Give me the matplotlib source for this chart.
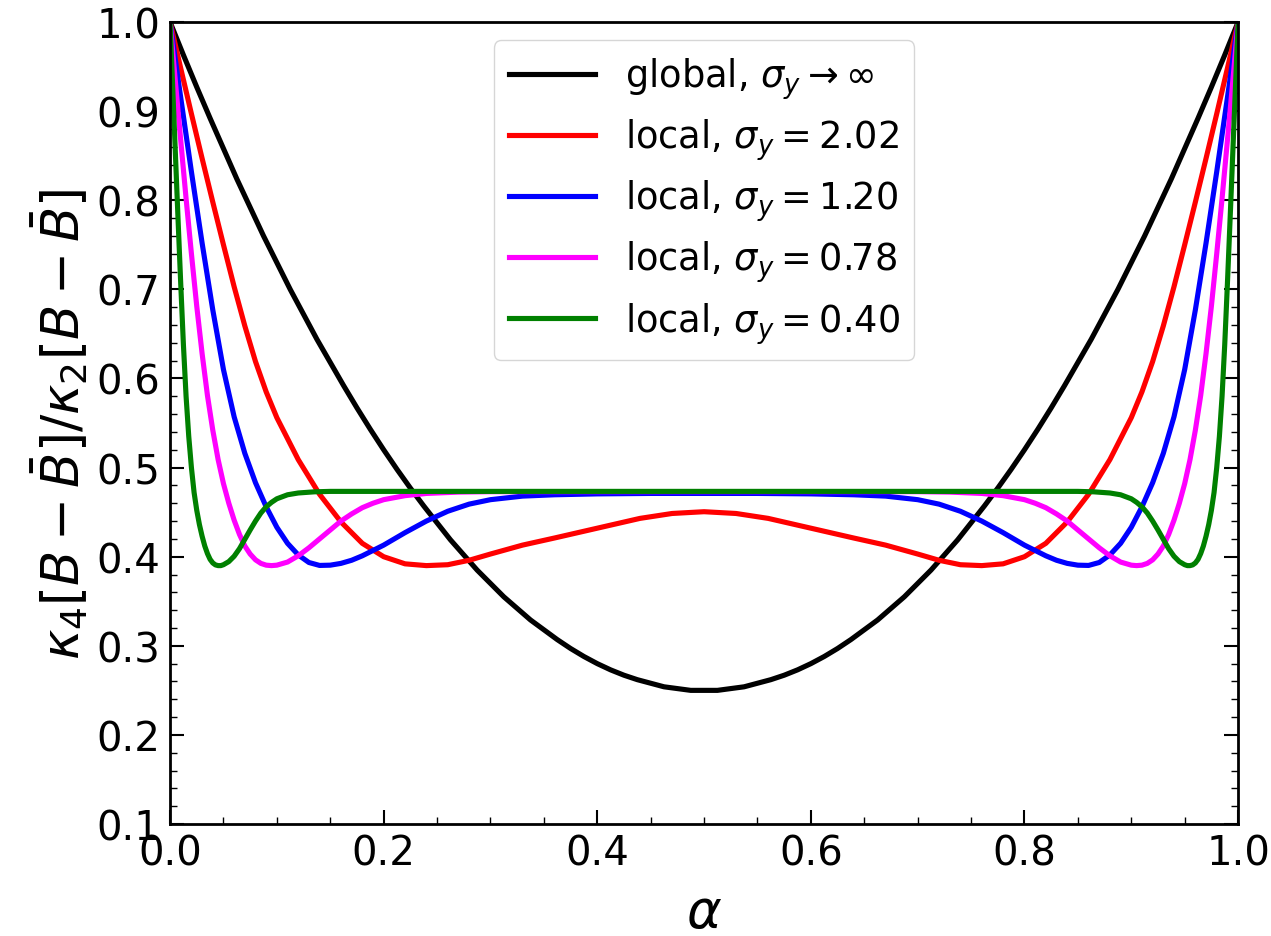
import matplotlib
matplotlib.use("Agg")
import matplotlib.pyplot as plt
from matplotlib.ticker import MultipleLocator

# global curve (sigma_y -> infinity)
alpha_global = [0.0000, 0.0125, 0.0250, 0.0375, 0.0500, 0.0625, 0.0750, 0.0875, 0.1000, 0.1125,
                0.1250, 0.1375, 0.1500, 0.1625, 0.1750, 0.1875, 0.2000, 0.2125, 0.2250, 0.2375,
                0.2500, 0.2625, 0.2750, 0.2875, 0.3000, 0.3125, 0.3250, 0.3375, 0.3500, 0.3625,
                0.3750, 0.3875, 0.4000, 0.4125, 0.4250, 0.4375, 0.4500, 0.4625, 0.4750, 0.4875,
                0.5000, 0.5125, 0.5250, 0.5375, 0.5500, 0.5625, 0.5750, 0.5875, 0.6000, 0.6125,
                0.6250, 0.6375, 0.6500, 0.6625, 0.6750, 0.6875, 0.7000, 0.7125, 0.7250, 0.7375,
                0.7500, 0.7625, 0.7750, 0.7875, 0.8000, 0.8125, 0.8250, 0.8375, 0.8500, 0.8625,
                0.8750, 0.8875, 0.9000, 0.9125, 0.9250, 0.9375, 0.9500, 0.9625, 0.9750, 0.9875, 1.0000]
k_global = [1.000, 0.963, 0.927, 0.892, 0.858, 0.824, 0.792, 0.760, 0.730, 0.700,
            0.672, 0.644, 0.618, 0.592, 0.567, 0.543, 0.520, 0.498, 0.477, 0.457,
            0.438, 0.419, 0.402, 0.385, 0.370, 0.355, 0.342, 0.329, 0.318, 0.307,
            0.297, 0.288, 0.280, 0.273, 0.267, 0.262, 0.258, 0.254, 0.252, 0.250,
            0.250, 0.250, 0.252, 0.254, 0.258, 0.262, 0.267, 0.273, 0.280, 0.288,
            0.297, 0.307, 0.318, 0.329, 0.342, 0.355, 0.370, 0.385, 0.402, 0.419,
            0.438, 0.457, 0.477, 0.498, 0.520, 0.543, 0.567, 0.592, 0.618, 0.644,
            0.672, 0.700, 0.730, 0.760, 0.792, 0.824, 0.858, 0.892, 0.927, 0.963, 1.000]

# local, sigma_y = 2.02
alpha_202 = [0.00, 0.01, 0.02, 0.03, 0.04, 0.05, 0.06, 0.07, 0.08, 0.09, 0.10, 0.12, 0.14,
             0.16, 0.18, 0.20, 0.22, 0.24, 0.26, 0.28, 0.30, 0.33, 0.36, 0.40, 0.44, 0.47,
             0.50, 0.53, 0.56, 0.60, 0.64, 0.67, 0.70, 0.72, 0.74, 0.76, 0.78, 0.80, 0.82,
             0.84, 0.86, 0.88, 0.90, 0.91, 0.92, 0.93, 0.94, 0.95, 0.96, 0.97, 0.98, 0.99, 1.00]
k_202 = [1.000, 0.948, 0.897, 0.847, 0.798, 0.750, 0.703, 0.659, 0.619, 0.585, 0.556, 0.509, 0.470,
         0.439, 0.415, 0.400, 0.392, 0.390, 0.391, 0.396, 0.403, 0.413, 0.421, 0.432, 0.443, 0.4485,
         0.4505, 0.4485, 0.443, 0.432, 0.421, 0.413, 0.403, 0.396, 0.391, 0.390, 0.392, 0.400, 0.415,
         0.439, 0.470, 0.509, 0.556, 0.585, 0.619, 0.659, 0.703, 0.750, 0.798, 0.847, 0.897, 0.948, 1.000]

# local, sigma_y = 1.20
alpha_120 = [0.00, 0.01, 0.02, 0.03, 0.04, 0.05, 0.06, 0.07, 0.08, 0.09, 0.10, 0.11, 0.12,
             0.13, 0.14, 0.15, 0.16, 0.17, 0.18, 0.20, 0.22, 0.24, 0.26, 0.28, 0.30, 0.33,
             0.36, 0.40, 0.45, 0.50, 0.55, 0.60, 0.64, 0.67, 0.70, 0.72, 0.74, 0.76, 0.78,
             0.80, 0.82, 0.83, 0.84, 0.85, 0.86, 0.87, 0.88, 0.89, 0.90, 0.91, 0.92, 0.93,
             0.94, 0.95, 0.96, 0.97, 0.98, 0.99, 1.00]
k_120 = [1.000, 0.915, 0.832, 0.752, 0.677, 0.610, 0.557, 0.516, 0.483, 0.456, 0.433, 0.415, 0.402,
         0.3935, 0.3902, 0.3905, 0.3925, 0.396, 0.401, 0.413, 0.427, 0.440, 0.451, 0.459, 0.464, 0.468,
         0.4695, 0.4705, 0.471, 0.471, 0.471, 0.4705, 0.4695, 0.468, 0.464, 0.459, 0.451, 0.440, 0.427,
         0.413, 0.401, 0.396, 0.3925, 0.3905, 0.3902, 0.3935, 0.402, 0.415, 0.433, 0.456, 0.483, 0.516,
         0.557, 0.610, 0.677, 0.752, 0.832, 0.915, 1.000]

# local, sigma_y = 0.78
alpha_078 = [0.000, 0.005, 0.010, 0.015, 0.020, 0.025, 0.030, 0.035, 0.040, 0.045, 0.050,
             0.055, 0.060, 0.065, 0.070, 0.075, 0.080, 0.085, 0.090, 0.095, 0.100,
             0.11, 0.12, 0.13, 0.14, 0.15, 0.16, 0.17, 0.18, 0.19, 0.20,
             0.22, 0.24, 0.27, 0.30, 0.35, 0.40, 0.45, 0.50,
             0.55, 0.60, 0.65, 0.70, 0.73, 0.76, 0.78, 0.80,
             0.81, 0.82, 0.83, 0.84, 0.85, 0.86, 0.87, 0.88, 0.89, 0.900,
             0.905, 0.910, 0.915, 0.920, 0.925, 0.930, 0.935, 0.940, 0.945, 0.950,
             0.955, 0.960, 0.965, 0.970, 0.975, 0.980, 0.985, 0.990, 0.995, 1.000]
k_078 = [1.000, 0.933, 0.867, 0.802, 0.740, 0.681, 0.628, 0.581, 0.542, 0.509, 0.482,
         0.460, 0.441, 0.425, 0.412, 0.403, 0.3965, 0.3925, 0.3905, 0.390, 0.3905,
         0.394, 0.401, 0.410, 0.420, 0.430, 0.440, 0.448, 0.455, 0.460, 0.464,
         0.4685, 0.471, 0.4725, 0.473, 0.473, 0.473, 0.473, 0.473,
         0.473, 0.473, 0.473, 0.473, 0.4725, 0.471, 0.4685, 0.464,
         0.460, 0.455, 0.448, 0.440, 0.430, 0.420, 0.410, 0.401, 0.394, 0.3905,
         0.390, 0.3905, 0.3925, 0.3965, 0.403, 0.412, 0.425, 0.441, 0.460, 0.482,
         0.509, 0.542, 0.581, 0.628, 0.681, 0.740, 0.802, 0.867, 0.933, 1.000]

# local, sigma_y = 0.40
alpha_040 = [0.0000, 0.0025, 0.0050, 0.0075, 0.0100, 0.0125, 0.0150, 0.0175, 0.0200, 0.0225,
             0.0250, 0.0275, 0.0300, 0.0325, 0.0350, 0.0375, 0.0400, 0.0425, 0.0450, 0.0475,
             0.0500, 0.055, 0.060, 0.065, 0.070, 0.075, 0.080, 0.085, 0.090, 0.095, 0.100,
             0.11, 0.12, 0.135, 0.15, 0.20, 0.30, 0.40, 0.50,
             0.60, 0.70, 0.80, 0.85, 0.865, 0.88, 0.89,
             0.900, 0.905, 0.910, 0.915, 0.920, 0.925, 0.930, 0.935, 0.940, 0.945,
             0.9500, 0.9525, 0.9550, 0.9575, 0.9600, 0.9625, 0.9650, 0.9675, 0.9700, 0.9725,
             0.9750, 0.9775, 0.9800, 0.9825, 0.9850, 0.9875, 0.9900, 0.9925, 0.9950, 0.9975, 1.0000]
k_040 = [1.000, 0.926, 0.852, 0.778, 0.706, 0.638, 0.580, 0.535, 0.500, 0.472,
         0.452, 0.436, 0.423, 0.412, 0.4035, 0.397, 0.393, 0.3908, 0.390, 0.390,
         0.391, 0.3945, 0.4005, 0.409, 0.4195, 0.430, 0.440, 0.449, 0.456, 0.461, 0.465,
         0.4695, 0.4715, 0.4728, 0.4733, 0.4733, 0.4733, 0.4733, 0.4733,
         0.4733, 0.4733, 0.4733, 0.4733, 0.4728, 0.4715, 0.4695,
         0.465, 0.461, 0.456, 0.449, 0.440, 0.430, 0.4195, 0.409, 0.4005, 0.3945,
         0.391, 0.390, 0.390, 0.3908, 0.393, 0.397, 0.4035, 0.412, 0.423, 0.436,
         0.452, 0.472, 0.500, 0.535, 0.580, 0.638, 0.706, 0.778, 0.852, 0.926, 1.000]

labels = [r"global, $\sigma_y \rightarrow \infty$",
          r"local, $\sigma_y = 2.02$",
          r"local, $\sigma_y = 1.20$",
          r"local, $\sigma_y = 0.78$",
          r"local, $\sigma_y = 0.40$"]
colors = ["black", "red", "blue", "magenta", "green"]

fig = plt.figure(figsize=(12.71, 9.37), dpi=100)
ax = fig.add_axes([0.1338, 0.1195, 0.8403, 0.8559])

series = [(alpha_global, k_global), (alpha_202, k_202), (alpha_120, k_120),
          (alpha_078, k_078), (alpha_040, k_040)]
for (a, k), c, lab in zip(series, colors, labels):
    ax.plot(a, k, color=c, lw=3.7, label=lab)

ax.set_xlim(0, 1)
ax.set_ylim(0.1, 1.0)
ax.xaxis.set_major_locator(MultipleLocator(0.2))
ax.xaxis.set_minor_locator(MultipleLocator(0.05))
ax.yaxis.set_major_locator(MultipleLocator(0.1))
ax.yaxis.set_minor_locator(MultipleLocator(0.02))
ax.tick_params(which="both", direction="in", right=True, top=False, labelsize=29)
ax.tick_params(which="major", length=10, width=1.5, pad=7)
ax.tick_params(which="minor", length=5, width=1.0)
for s in ax.spines.values():
    s.set_linewidth(2)

ax.set_xlabel(r"$\alpha$", fontsize=38, labelpad=9)
ax.set_ylabel(r"$\kappa_4[B-\bar{B}]/\kappa_2[B-\bar{B}]$", fontsize=37, labelpad=4)

ax.legend(loc="upper center", fontsize=26.5, handlelength=2.35, handletextpad=0.8,
          labelspacing=0.42)

fig.savefig("out.png", dpi=100)
